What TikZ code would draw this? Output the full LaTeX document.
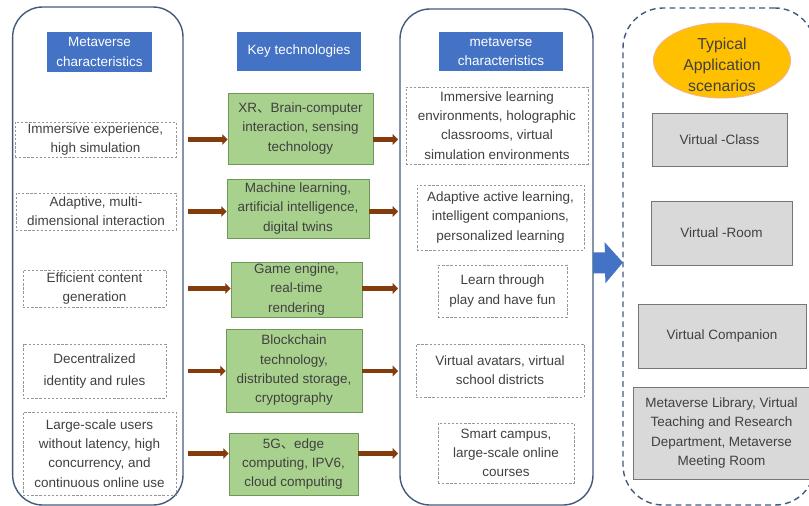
\documentclass[tikz,border=0pt]{standalone}
\usepackage{fontspec}
\setmainfont{Liberation Sans}
\newfontfamily\cjk{Noto Sans CJK SC}
\usepackage{color}
\usetikzlibrary{arrows.meta, positioning, shapes.geometric}

\definecolor{hdblue}{RGB}{68,114,196}
\definecolor{techgreen}{RGB}{169,209,142}
\definecolor{techline}{RGB}{112,150,88}
\definecolor{scgray}{RGB}{217,217,217}
\definecolor{scline}{RGB}{118,118,118}
\definecolor{brownarr}{RGB}{132,60,12}
\definecolor{framecol}{RGB}{68,90,125}
\definecolor{txt}{RGB}{64,64,64}
\definecolor{dashcol}{RGB}{150,150,150}
\definecolor{ovalfill}{RGB}{255,192,0}
\definecolor{ovalline}{RGB}{244,177,131}

\begin{document}
\begin{tikzpicture}[
  every node/.style={font=\fontsize{11.5}{16.5}\selectfont, text=txt},
  box/.style={
    rectangle, align=center, inner sep=1pt
  },
  hbox/.style={box, fill=hdblue, text=white},
  tbox/.style={box, fill=techgreen, draw=techline, line width=0.8pt},
  dbox/.style={box, draw=dashcol, line width=0.6pt, dash pattern=on 2pt off 1.5pt},
  sbox/.style={box, fill=scgray, draw=scline, line width=0.8pt},
  colframe/.style={rectangle, draw=framecol, line width=1.2pt, rounded corners=0.9cm, outer sep=0pt},
  arr/.style={-{Triangle[length=4.5pt,width=9pt]}, draw=brownarr, fill=brownarr, line width=4pt},
  bigarr/.style={-{Triangle[length=0.54cm,width=1.2cm]}, draw=hdblue, fill=hdblue, line width=0.63cm}
]

\useasboundingbox (0,0) rectangle (24.27,-15.18);

% ======================
% FRAMES
% ======================
\node[colframe, minimum width=5.11cm, minimum height=14.94cm] (colL) at (2.935,-7.68) {};
\node[colframe, minimum width=5.79cm, minimum height=14.88cm] (colM) at (14.895,-7.71) {};
\node[colframe, dashed, dash pattern=on 5pt off 3.5pt, rounded corners=1.2cm,
      minimum width=5.76cm, minimum height=14.91cm] (colR) at (21.57,-7.695) {};

% headers
\node[hbox, minimum width=3.15cm, minimum height=1.2cm]  (hdL) at (2.985,-1.56)  {Metaverse\\characteristics};
\node[hbox, minimum width=3.72cm, minimum height=1.17cm] (hdK) at (8.97,-1.545)  {Key technologies};
\node[hbox, minimum width=3.72cm, minimum height=1.17cm] (hdM) at (15.03,-1.545) {metaverse\\characteristics};

% left column (characteristics)
\node[dbox, minimum width=4.83cm, minimum height=1.05cm] (ch1) at (2.865,-4.185) {Immersive experience,\\high simulation};
\node[dbox, minimum width=4.8cm,  minimum height=1.11cm] (ch2) at (2.88,-6.345)  {Adaptive, multi-\\dimensional interaction};
\node[dbox, minimum width=4.29cm, minimum height=1.11cm] (ch3) at (2.835,-8.655) {Efficient content\\generation};
\node[dbox, minimum width=4.29cm, minimum height=1.62cm] (ch4) at (2.835,-11.13) {Decentralized\\[3pt]identity and rules};
\node[dbox, minimum width=4.59cm, minimum height=2.49cm] (ch5) at (2.985,-13.605) {Large-scale users\\without latency, high\\concurrency, and\\continuous online use};

% center column (key technologies)
\node[tbox, minimum width=4.35cm, minimum height=2.13cm] (kt1) at (9.015,-3.855) {XR{\cjk 、}Brain-computer\\interaction, sensing\\technology};
\node[tbox, minimum width=4.26cm, minimum height=1.77cm] (kt2) at (8.94,-6.255)  {Machine learning,\\artificial intelligence,\\digital twins};
\node[tbox, minimum width=3.93cm, minimum height=1.65cm] (kt3) at (8.895,-8.685) {Game engine,\\real-time\\rendering};
\node[tbox, minimum width=4.08cm, minimum height=2.49cm] (kt4) at (8.82,-11.115) {Blockchain\\technology,\\distributed storage,\\cryptography};
\node[tbox, minimum width=3.87cm, minimum height=1.86cm] (kt5) at (8.805,-13.92) {5G{\cjk 、}edge\\computing, IPV6,\\cloud computing};

% right column (education characteristics)
\node[dbox, minimum width=5.46cm, minimum height=2.31cm] (ed1) at (14.91,-3.765) {Immersive learning\\environments, holographic\\classrooms, virtual\\simulation environments};
\node[dbox, minimum width=5.01cm, minimum height=1.95cm] (ed2) at (15.015,-6.525) {Adaptive active learning,\\intelligent companions,\\personalized learning};
\node[dbox, minimum width=3.87cm, minimum height=1.56cm] (ed3) at (15.075,-8.73) {Learn through\\play and have fun};
\node[dbox, minimum width=5.04cm, minimum height=1.59cm] (ed4) at (15.0,-11.115) {Virtual avatars, virtual\\school districts};
\node[dbox, minimum width=4.08cm, minimum height=1.8cm]  (ed5) at (15.18,-13.59) {Smart campus,\\large-scale online\\courses};

% scenarios
\node[ellipse, fill=ovalfill, draw=ovalline, line width=0.8pt,
      minimum width=4.11cm, minimum height=2.25cm] (typ) at (21.66,-1.815) {};
\node[align=center, font=\fontsize{13.5}{18}\selectfont] (typtxt) at ([yshift=-0.14cm]typ.center) {Typical\\Application\\scenarios};
\node[sbox, minimum width=4.05cm, minimum height=1.59cm] (sc1) at (21.585,-4.185) {Virtual -Class};
\node[sbox, minimum width=4.23cm, minimum height=1.92cm] (sc2) at (21.645,-6.99)  {Virtual -Room};
\node[sbox, minimum width=5.04cm, minimum height=1.92cm] (sc3) at (21.66,-10.08)  {Virtual Companion};
\node[sbox, minimum width=5.31cm, minimum height=2.76cm] (sc4) at (21.645,-12.99) {Metaverse Library, Virtual\\Teaching and Research\\Department, Metaverse\\Meeting Room};

% ======================
% FLOWS
% ======================

% characteristics -> technologies -> education
\foreach \i in {1,...,5} {
  \draw[arr, shorten <=0.15cm] (ch\i -| colL.east) -- (ch\i -| kt\i.west);
  \draw[arr, shorten >=0.06cm] (ch\i -| kt\i.east) -- (ch\i -| colM.west);
}

% education -> scenarios
\draw[bigarr] ([yshift=-0.18cm]colM.east) -- ([yshift=-0.18cm]colR.west);

\end{tikzpicture}
\end{document}
